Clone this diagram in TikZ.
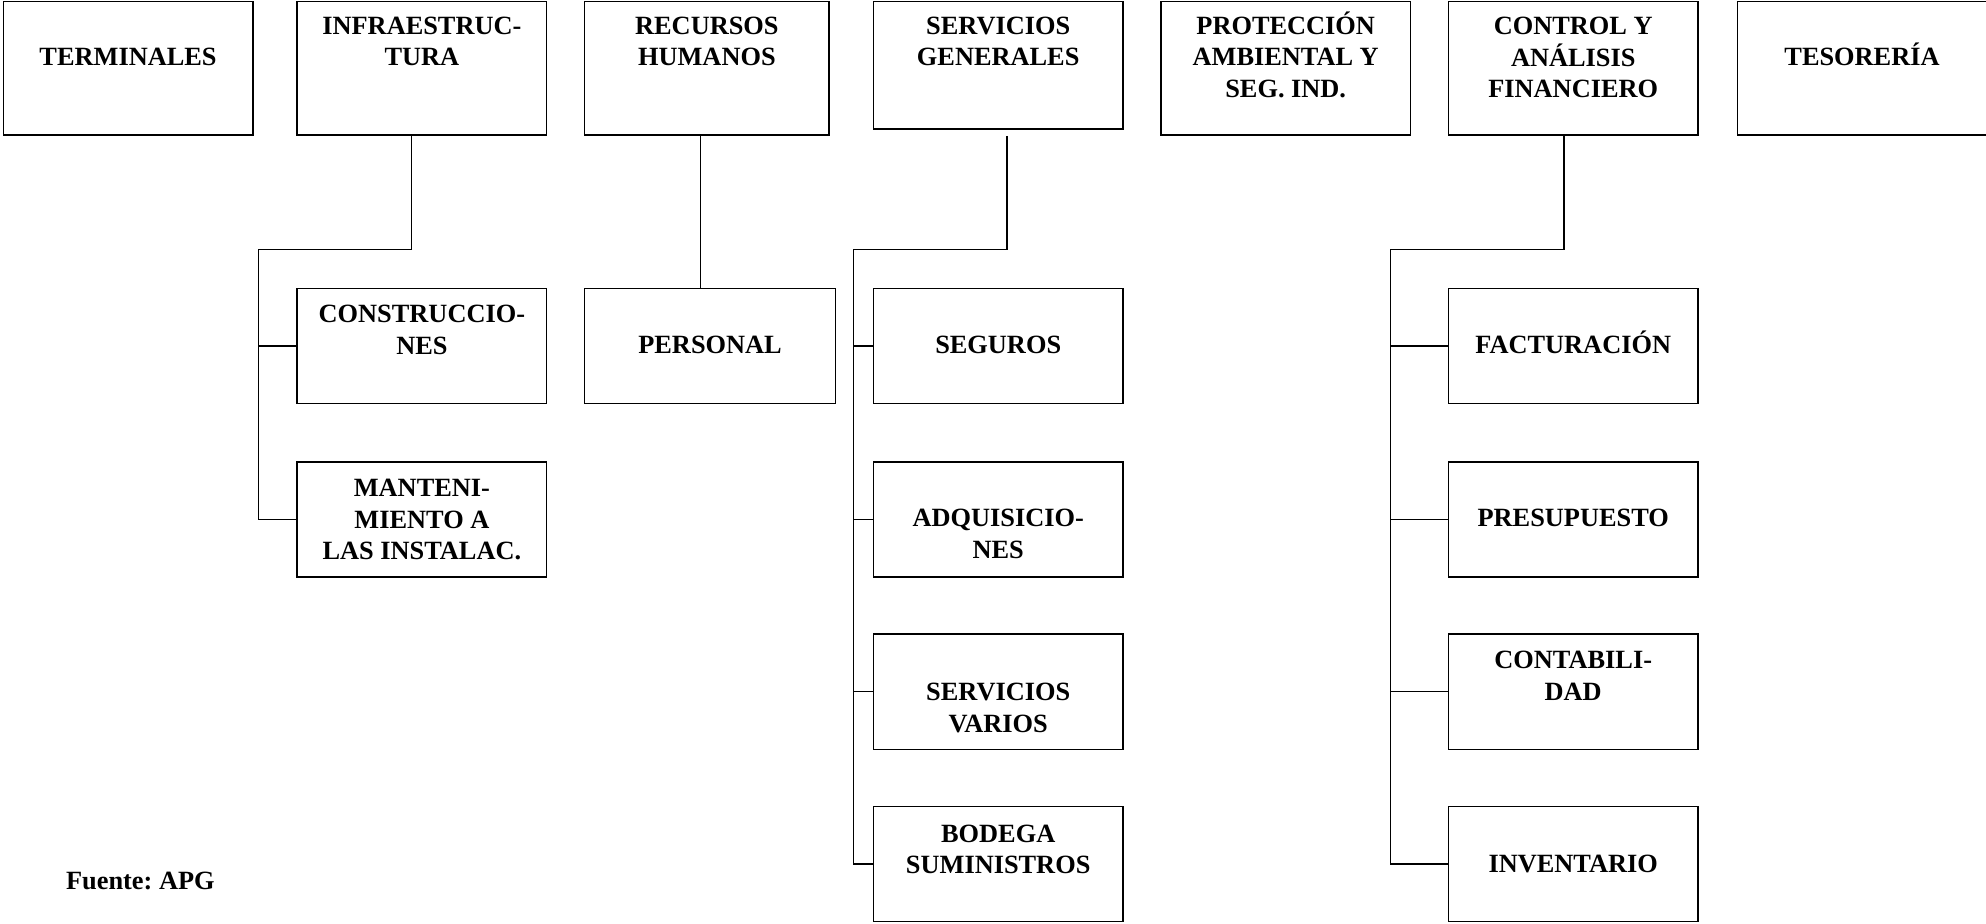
\documentclass[tikz,border=0pt]{standalone}
\usepackage{fontspec}
\setmainfont{Liberation Serif}
\frenchspacing
\newcommand\mylines[1]{\begin{tabular}[t]{@{}c@{}}#1\end{tabular}}
\begin{document}
\begin{tikzpicture}[x=1pt,y=-1pt,
  box/.style={draw, line width=1.2pt, inner sep=0pt, anchor=north west, minimum width=197pt},
  topbox/.style={box, minimum height=105.5pt},
  subbox/.style={box, minimum height=91pt},
  lbl/.style={inner sep=0pt, anchor=base, font=\fontsize{20.8}{25}\selectfont\bfseries},
  wire/.style={line width=1.2pt}]
\useasboundingbox (0,0) rectangle (1568,729);

% top row
\node[topbox] (term) at (2,0.6) {};
\node[topbox] (infra) at (234,0.6) {};
\node[topbox, minimum width=193pt] (rrhh) at (461,0.6) {};
\node[box, minimum height=100.5pt] (servg) at (689,0.6) {};
\node[topbox] (prot) at (916,0.6) {};
\node[topbox] (ctrl) at (1143,0.6) {};
\node[topbox] (teso) at (1371,0.6) {};

\node[lbl] (term-t) at (term.north |- 0,52) {TERMINALES};
\node[lbl] (infra-t) at (infra.north |- 0,27) {\mylines{INFRAESTRUC-\\TURA}};
\node[lbl] (rrhh-t) at (rrhh.north |- 0,27) {\mylines{RECURSOS\\HUMANOS}};
\node[lbl] (servg-t) at (servg.north |- 0,27) {\mylines{SERVICIOS\\GENERALES}};
\node[lbl] (prot-t) at (prot.north |- 0,27) {\mylines{PROTECCIÓN\\AMBIENTAL Y\\SEG. IND.}};
\node[lbl] (ctrl-t) at (ctrl.north |- 0,27) {\mylines{CONTROL Y\\ANÁLISIS\\FINANCIERO}};
\node[lbl] (teso-t) at (teso.north |- 0,52) {TESORERÍA};

% infraestructura children
\node[subbox] (constr) at (234,227) {};
\node[subbox] (manten) at (234,364) {};
\node[lbl] (constr-t) at (constr.north |- 0,255) {\mylines{CONSTRUCCIO-\\NES}};
\node[lbl] (manten-t) at (manten.north |- 0,392) {\mylines{MANTENI-\\MIENTO A\\LAS INSTALAC.}};

% recursos humanos child
\node[subbox, minimum width=198pt] (pers) at (461,227) {};
\node[lbl] (pers-t) at (pers.north |- 0,279) {PERSONAL};

% servicios generales children
\node[subbox] (seg) at (689,227) {};
\node[subbox] (adq) at (689,364) {};
\node[subbox] (sv) at (689,500) {};
\node[subbox] (bod) at (689,636) {};
\node[lbl] (seg-t) at (seg.north |- 0,279) {SEGUROS};
\node[lbl] (adq-t) at (adq.north |- 0,416) {\mylines{ADQUISICIO-\\NES}};
\node[lbl] (sv-t) at (sv.north |- 0,553) {\mylines{SERVICIOS\\VARIOS}};
\node[lbl] (bod-t) at (bod.north |- 0,665) {\mylines{BODEGA\\SUMINISTROS}};

% control y analisis children
\node[subbox] (fact) at (1143,227) {};
\node[subbox] (pres) at (1143,364) {};
\node[subbox] (cont) at (1143,500) {};
\node[subbox] (inv) at (1143,636) {};
\node[lbl] (fact-t) at (fact.north |- 0,279) {FACTURACIÓN};
\node[lbl] (pres-t) at (pres.north |- 0,416) {PRESUPUESTO};
\node[lbl] (cont-t) at (cont.north |- 0,528) {\mylines{CONTABILI-\\DAD}};
\node[lbl] (inv-t) at (inv.north |- 0,689) {INVENTARIO};

\node[lbl, anchor=base west] (fuente) at (52,702) {Fuente: APG};

% connectors
\coordinate (infra-j) at (204,197);
\draw[wire] (infra.south -| 325,0) -- (325,197) -- (infra-j) |- (manten.west);
\draw[wire] (infra-j |- constr.west) -- (constr.west);

\draw[wire] (rrhh.south -| 553,0) -- (pers.north -| 553,0);

\coordinate (servg-j) at (674,197);
\draw[wire] ([yshift=-5pt]servg.south -| 795,0) -- (795,197) -- (servg-j) |- (bod.west);
\draw[wire] (servg-j |- seg.west) -- (seg.west);
\draw[wire] (servg-j |- adq.west) -- (adq.west);
\draw[wire] (servg-j |- sv.west) -- (sv.west);

\coordinate (ctrl-j) at (1098,197);
\draw[wire] (ctrl.south -| 1235,0) -- (1235,197) -- (ctrl-j) |- (inv.west);
\draw[wire] (ctrl-j |- fact.west) -- (fact.west);
\draw[wire] (ctrl-j |- pres.west) -- (pres.west);
\draw[wire] (ctrl-j |- cont.west) -- (cont.west);
\end{tikzpicture}
\end{document}
